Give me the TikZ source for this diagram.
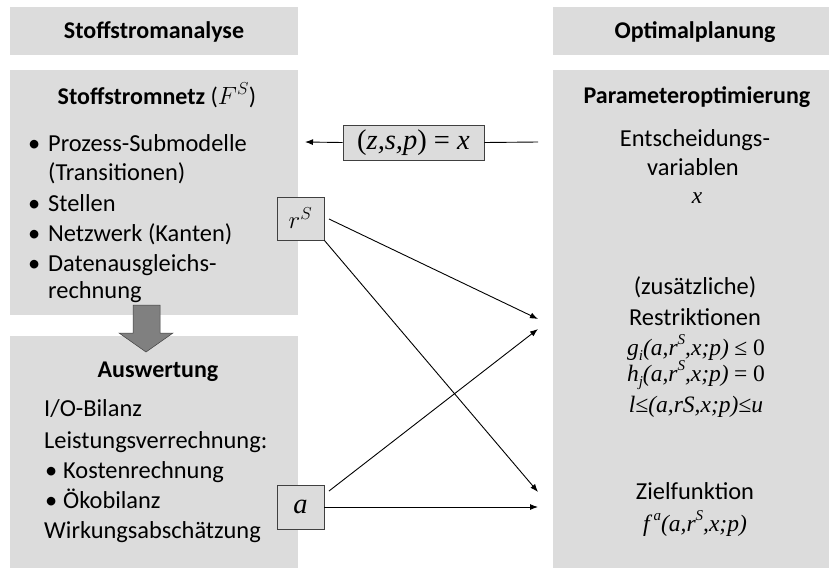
\documentclass[tikz,border=0pt]{standalone}
\usepackage{fontspec}
\setmainfont{Carlito}
\newfontfamily\tms{Liberation Serif}
\usetikzlibrary{arrows.meta}
\definecolor{panel}{HTML}{DCDCDC}
\definecolor{edge}{HTML}{404040}
\definecolor{blockgray}{HTML}{808080}
\newcommand{\tv}[1]{{\tms\itshape #1}}
\newcommand{\up}[1]{\raisebox{0.45em}{\fontsize{15}{15}\selectfont #1}}
\newcommand{\dn}[1]{\raisebox{-0.25em}{\fontsize{15}{15}\selectfont #1}}
\tikzset{
  panelbox/.style={fill=panel, draw=none},
  symbox/.style={fill=panel, draw=edge, line width=0.8pt, inner sep=0pt},
  conn/.style={line width=0.9pt, -{Latex[length=8pt,width=6pt]}},
  plainline/.style={line width=0.9pt},
  txt/.style={font=\fontsize{24.4}{28}\selectfont, anchor=base west, inner sep=0pt},
  ctxt/.style={font=\fontsize{24.4}{28}\selectfont, anchor=base, inner sep=0pt},
  head/.style={font=\fontsize{24}{28}\selectfont\bfseries, anchor=base, inner sep=0pt},
  formula/.style={font=\fontsize{23.5}{28}\selectfont, anchor=base, inner sep=0pt},
}
\begin{document}
\begin{tikzpicture}[x=1pt, y=-1pt]
\useasboundingbox (0,0) rectangle (829,568);

% panels
\fill[panelbox] (10,7) rectangle (298,55);
\fill[panelbox] (10,70) rectangle (298,315);
\fill[panelbox] (10,336) rectangle (298,568);
\fill[panelbox] (553,7) rectangle (829,55);
\fill[panelbox] (553,70) rectangle (829,568);

% headings
\node[head] (hL) at (154,38) {Stoffstromanalyse};
\node[head] (hR) at (695,38) {Optimalplanung};

% material flow network
\node[head] (netT) at (157,104) {Stoffstromnetz \textmd{($F^S$)}};
\node[txt] (b1) at (28,151) {\textbullet};
\node[txt] (n1) at (48,151) {Prozess-Submodelle};
\node[txt] (n2) at (48,180.5) {(Transitionen)};
\node[txt] (b3) at (28,211) {\textbullet};
\node[txt] (n3) at (48,211) {Stellen};
\node[txt] (b4) at (28,241) {\textbullet};
\node[txt] (n4) at (48,241) {Netzwerk (Kanten)};
\node[txt] (b5) at (28,271.5) {\textbullet};
\node[txt] (n5) at (48,271.5) {Datenausgleichs-};
\node[txt] (n6) at (48,298) {rechnung};

% evaluation
\node[head] (evT) at (158,377) {Auswertung};
\node[txt] (e1) at (44,416.5) {I/O-Bilanz};
\node[txt] (e2) at (44,448) {Leistungsverrechnung:};
\node[txt] (eb3) at (45,478) {\textbullet};
\node[txt] (e3) at (63,478) {Kostenrechnung};
\node[txt] (eb4) at (45,508) {\textbullet};
\node[txt] (e4) at (63,508) {Ökobilanz};
\node[txt] (e5) at (44,538) {Wirkungsabschätzung};

% block arrow between the two left panels
\filldraw[fill=blockgray, draw=edge, line width=0.5pt]
  (133,305) -- (160,305) -- (160,333) -- (173,333) -- (146,352)
  -- (119,333) -- (133,333) -- cycle;

% parameter optimisation
\node[head] (poT) at (697,103) {Parameteroptimierung};
\node[ctxt] (dv1) at (695,146) {Entscheidungs-};
\node[ctxt] (dv2) at (693,175) {variablen};
\node[formula] (dvx) at (697,203) {\tv{x}};
\node[ctxt] (rs1) at (695,294) {(zusätzliche)};
\node[ctxt] (rs2) at (695,325) {Restriktionen};
\node[formula] (g) at (696,355) {\tv{g\dn{i}(a,r\up{S},x;p)} {\tms ≤ 0}};
\node[formula] (h) at (696,381) {\tv{h\dn{j}(a,r\up{S},x;p)} {\tms = 0}};
\node[formula] (l) at (696,412) {\tv{l≤(a,rS,x;p)≤u}};
\node[ctxt] (zf) at (695,499) {Zielfunktion};
\node[formula] (f) at (695,531) {\tv{f\,\up{a}(a,r\up{S},x;p)}};

% connector end points
\coordinate (inR) at (538,319);
\coordinate (inRb) at (538,329);
\coordinate (inZ) at (538,492);
\coordinate (inZb) at (538,507);
\coordinate (outX) at (538,142);
\coordinate (toNet) at (305,142);
\coordinate (rOut) at (329,219);
\coordinate (aOut) at (329,491);

% symbol boxes
\node[symbox, minimum width=141pt, minimum height=35pt] (xbox) at (413.5,142.5)
  {\fontsize{28.5}{32}\selectfont\tms ({\itshape z,s,p}) = {\itshape x}};
\node[symbox, minimum width=47pt, minimum height=43pt] (rbox) at (300.5,218.5)
  {\fontsize{25}{28}\selectfont$r^S$};
\node[symbox, minimum width=47pt, minimum height=44pt] (abox) at (300.5,507)
  {\fontsize{28.5}{32}\selectfont\tv{a}};

% connectors
\draw[plainline] (outX) -- (xbox.east);
\draw[conn] (xbox.west) -- (toNet);
\draw[conn] (rOut) -- (inR);
\draw[conn] (rbox.south east) -- (inZ);
\draw[conn] (aOut) -- (inRb);
\draw[conn] (abox.east) -- (inZb);
\end{tikzpicture}
\end{document}
